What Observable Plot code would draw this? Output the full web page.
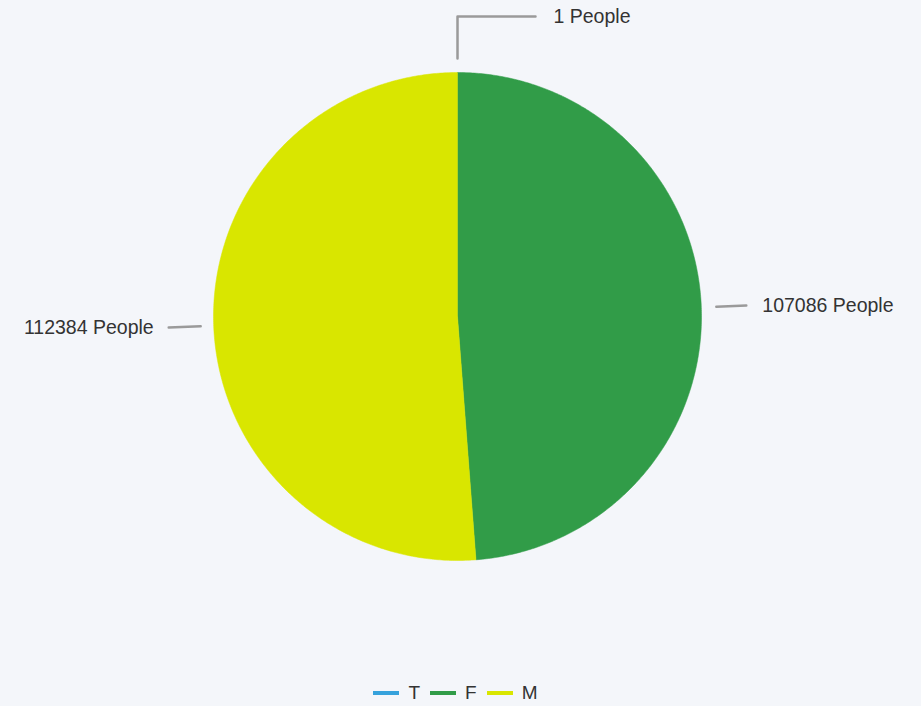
<!DOCTYPE html>
<html>
<head>
<meta charset="utf-8">
<script src="https://cdn.jsdelivr.net/npm/d3@7"></script>
<script src="https://cdn.jsdelivr.net/npm/@observablehq/plot@0.6"></script>
<style>
  html, body { margin: 0; padding: 0; background: #f4f6fa; }
  body { width: 921px; height: 706px; overflow: hidden; font-family: "Liberation Sans", Arial, sans-serif; }
  #legend { display: flex; justify-content: center; align-items: center; height: 34px; font-size: 19px; color: #333; padding-right: 10px; }
  .item { display: flex; align-items: center; margin: 0 5px; }
  .sw { width: 26px; height: 4px; margin-right: 9px; }
</style>
</head>
<body>
<div id="chart"></div>
<div id="legend"></div>
<script>
const categories = ["T", "F", "M"];
const values = [1, 107086, 112384];
const colors = ["#36a2dc", "#319c48", "#d9e600"];
const labelText = values.map(v => v + " People");

const W = 921, H = 676;
const cx = 457, cy = 316, R = 244;
const total = d3.sum(values);

// angles clockwise from top
let acc = 0;
const slices = categories.map((c, i) => {
  const a0 = acc / total * 2 * Math.PI;
  acc += values[i];
  const a1 = acc / total * 2 * Math.PI;
  return { key: c, value: values[i], a0, a1, mid: (a0 + a1) / 2, color: colors[i], label: labelText[i] };
});

function pt(a, r) { return { x: r * Math.sin(a), y: r * Math.cos(a) }; }

const marks = [];
slices.forEach(s => {
  const n = Math.max(2, Math.ceil((s.a1 - s.a0) / (Math.PI / 360)));
  const pts = [pt(0, 0)];
  for (let k = 0; k <= n; k++) pts.push(pt(s.a0 + (s.a1 - s.a0) * k / n, 1));
  pts.push(pt(0, 0));
  marks.push(Plot.line(pts, { x: "x", y: "y", fill: s.color, stroke: s.color, strokeWidth: 0.5, curve: "linear" }));
});

// leader lines + labels
const gray = "#9a9a9a";
const FS = 19.5;
const T = slices[0], F = slices[1], M = slices[2];
// T: elbow line
const tA = pt(T.mid, 258 / R), tB = pt(T.mid, 300 / R);
const tC = { x: tB.x + 78 / R, y: tB.y };
marks.push(Plot.line([tA, tB, tC], { x: "x", y: "y", stroke: gray, strokeWidth: 2.5 }));
marks.push(Plot.text([{ x: tC.x + 18 / R, y: tC.y, t: T.label }], { x: "x", y: "y", text: "t", textAnchor: "start", fontSize: FS, fill: "#333" }));
// F
const fA = pt(F.mid, 259 / R), fB = pt(F.mid, 289 / R);
marks.push(Plot.line([fA, fB], { x: "x", y: "y", stroke: gray, strokeWidth: 2.5 }));
marks.push(Plot.text([{ x: fB.x + 16 / R, y: fB.y, t: F.label }], { x: "x", y: "y", text: "t", textAnchor: "start", fontSize: FS, fill: "#333" }));
// M
const mA = pt(M.mid, 257 / R), mB = pt(M.mid, 289 / R);
marks.push(Plot.line([mA, mB], { x: "x", y: "y", stroke: gray, strokeWidth: 2.5 }));
marks.push(Plot.text([{ x: mB.x - 15 / R, y: mB.y, t: M.label }], { x: "x", y: "y", text: "t", textAnchor: "end", fontSize: FS, fill: "#333" }));

const chart = Plot.plot({
  width: W, height: H,
  margin: 0,
  style: { background: "#f4f6fa", fontFamily: "'Liberation Sans', Arial, sans-serif", overflow: "visible" },
  x: { domain: [-cx / R, (W - cx) / R], range: [0, W], axis: null },
  y: { domain: [(cy - H) / R, cy / R], range: [H, 0], axis: null },
  marks
});
document.getElementById("chart").appendChild(chart);

const legend = document.getElementById("legend");
slices.forEach(s => {
  const it = document.createElement("div");
  it.className = "item";
  it.innerHTML = `<span class="sw" style="background:${s.color}"></span><span>${s.key}</span>`;
  legend.appendChild(it);
});
</script>
</body>
</html>
